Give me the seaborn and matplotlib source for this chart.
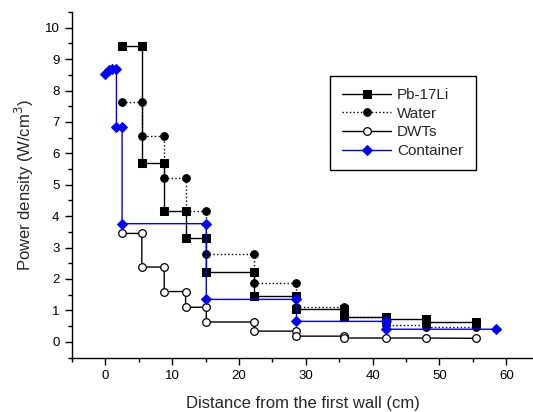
import matplotlib
matplotlib.use("Agg")
import matplotlib.pyplot as plt
import seaborn as sns
import pandas as pd
from matplotlib.ticker import MultipleLocator

sns.set_theme(style="ticks")
plt.rcParams['font.family'] = ['Liberation Sans', 'DejaVu Sans']

# Data (step profiles)
pb_x = [2.5, 5.45, 5.45, 8.8, 8.8, 12.0, 12.0, 15.1, 15.1, 22.3, 22.3, 28.6, 28.6, 35.7, 35.7, 42.0, 42.0, 48.0, 48.0, 55.5]
pb_y = [9.43, 9.43, 5.70, 5.70, 4.16, 4.16, 3.32, 3.32, 2.21, 2.21, 1.46, 1.46, 1.06, 1.06, 0.80, 0.80, 0.72, 0.72, 0.62, 0.62]

water_x = [2.5, 5.45, 5.45, 8.8, 8.8, 12.0, 12.0, 15.1, 15.1, 22.3, 22.3, 28.6, 28.6, 35.7, 35.7, 42.0, 42.0, 48.0, 48.0, 55.5]
water_y = [7.64, 7.64, 6.55, 6.55, 5.20, 5.20, 4.16, 4.16, 2.81, 2.81, 1.88, 1.88, 1.10, 1.10, 0.80, 0.80, 0.52, 0.52, 0.48, 0.48]

dwt_x = [2.5, 5.45, 5.45, 8.8, 8.8, 12.0, 12.0, 15.1, 15.1, 22.3, 22.3, 28.6, 28.6, 35.7, 35.7, 42.0, 48.0, 55.5]
dwt_y = [3.45, 3.45, 2.38, 2.38, 1.60, 1.60, 1.10, 1.10, 0.63, 0.63, 0.34, 0.34, 0.18, 0.18, 0.12, 0.12, 0.12, 0.11]

cont_x = [0.0, 0.6, 1.0, 1.65, 1.65, 2.5, 2.5, 15.1, 15.1, 28.6, 28.6, 42.0, 42.0, 58.5]
cont_y = [8.52, 8.64, 8.68, 8.70, 6.85, 6.85, 3.76, 3.76, 1.35, 1.35, 0.65, 0.65, 0.40, 0.40]

series = [
    ("Pb-17Li", pb_x, pb_y),
    ("Water", water_x, water_y),
    ("DWTs", dwt_x, dwt_y),
    ("Container", cont_x, cont_y),
]
styles = {
    "Pb-17Li": dict(color="black", linestyle="-", marker="s", markersize=5.5,
                    markerfacecolor="black", markeredgecolor="black"),
    "Water": dict(color="black", linestyle=":", marker="o", markersize=5.5,
                  markerfacecolor="black", markeredgecolor="black"),
    "DWTs": dict(color="black", linestyle="-", marker="o", markersize=5.5,
                 markerfacecolor="white", markeredgecolor="black", markeredgewidth=0.9),
    "Container": dict(color="#0000ff", linestyle="-", marker="D", markersize=5.5,
                      markerfacecolor="#0000ff", markeredgecolor="#0000ff"),
}

fig = plt.figure(figsize=(5.33, 4.12), dpi=100)
ax = fig.add_axes([72/533, 1-357.5/412, 1-72/533, (357.5-12)/412])

for name, xs, ys in series:
    df = pd.DataFrame({"x": xs, "y": ys})
    sns.lineplot(data=df, x="x", y="y", sort=False, estimator=None, ax=ax,
                 label=name, linewidth=1.0, **styles[name])

ax.set_xlim(-5, 64)
ax.set_ylim(-0.5, 10.5)
ax.xaxis.set_major_locator(MultipleLocator(10))
ax.xaxis.set_minor_locator(MultipleLocator(5))
ax.yaxis.set_major_locator(MultipleLocator(1))
ax.yaxis.set_minor_locator(MultipleLocator(0.5))
ax.tick_params(which="major", direction="out", length=5, width=1, colors="black",
               labelsize=9.5, pad=4)
ax.tick_params(which="minor", direction="out", length=3, width=1, colors="black")
for s in ["top", "right"]:
    ax.spines[s].set_visible(False)
for s in ["left", "bottom"]:
    ax.spines[s].set_color("black")
    ax.spines[s].set_linewidth(1)

ax.set_xlabel("Distance from the first wall (cm)", fontsize=12, labelpad=10)
ax.set_ylabel("Power density (W/cm$^3$)", fontsize=12, labelpad=6)

leg = ax.legend(loc="upper left", bbox_to_anchor=((330-72)/461, 1-(76-12)/345.5),
                borderaxespad=0, fontsize=11, frameon=True, fancybox=False,
                edgecolor="black", handlelength=3.2, labelspacing=0.3,
                handletextpad=0.4, borderpad=0.8)
leg.get_frame().set_linewidth(1)
leg.get_frame().set_facecolor("white")
leg.get_frame().set_alpha(1)

fig.savefig("out.png", dpi=100)
